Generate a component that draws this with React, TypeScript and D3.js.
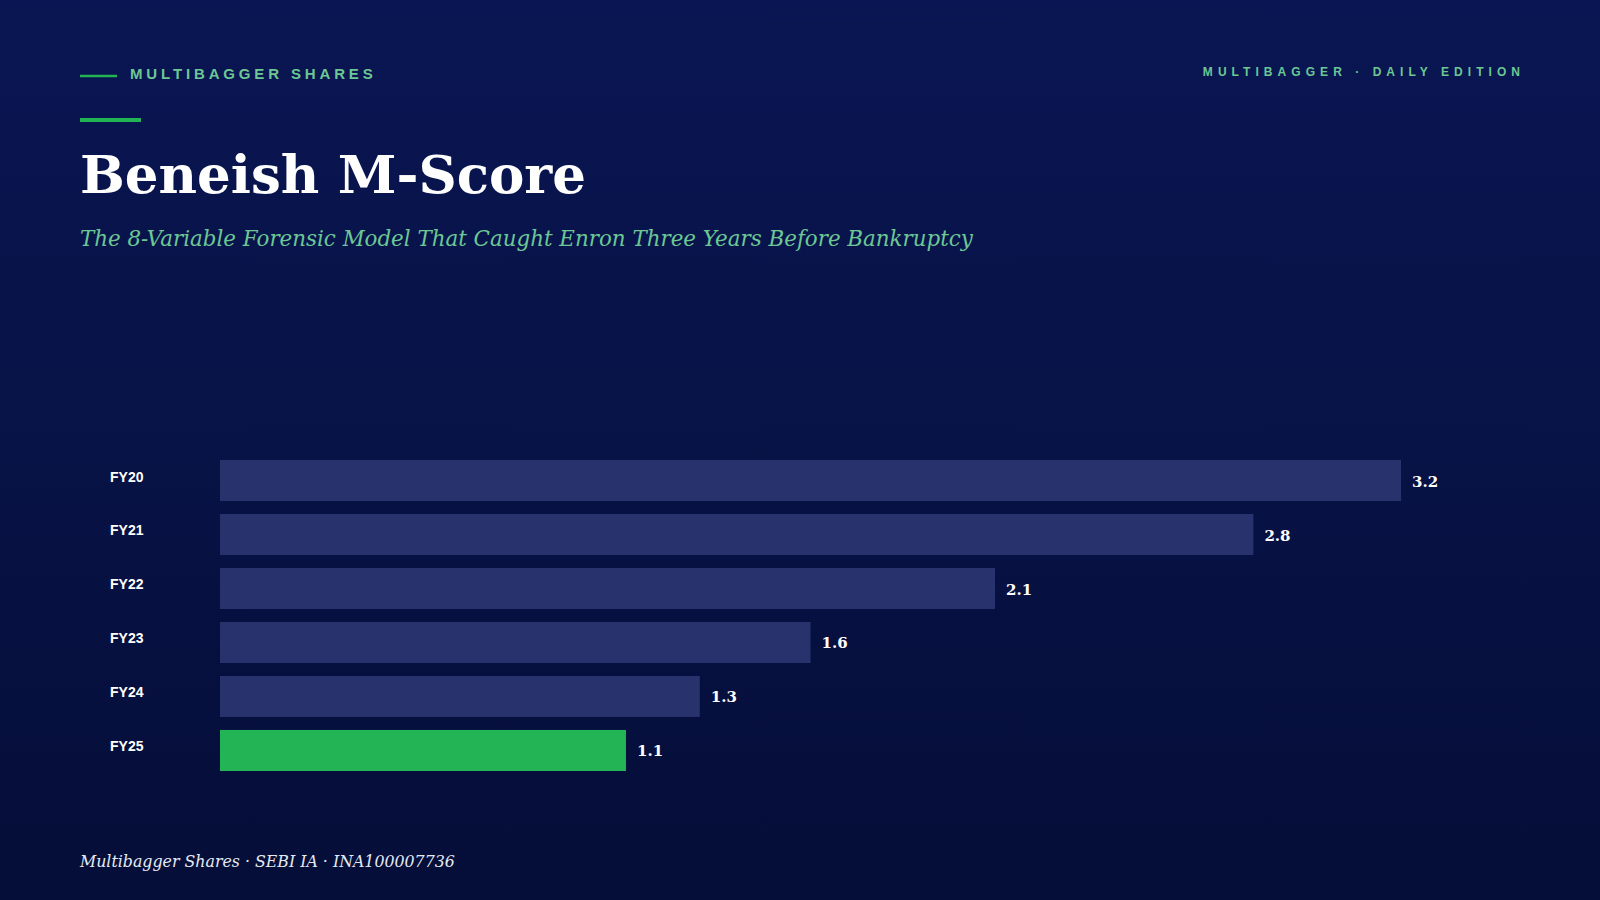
import React, { useEffect, useRef } from 'react';
import * as d3 from 'd3';

const categories = ['FY20', 'FY21', 'FY22', 'FY23', 'FY24', 'FY25'];
const mScores = [3.2, 2.8, 2.1, 1.6, 1.3, 1.1];
const valueLabels = ['3.2', '2.8', '2.1', '1.6', '1.3', '1.1'];
const highlight = 'FY25';

const W = 1600;
const H = 900;
const SERIF = '"DejaVu Serif", Georgia, serif';
const SANS = '"Liberation Sans", Arial, sans-serif';

const App: React.FC = () => {
  const svgRef = useRef<SVGSVGElement>(null);

  useEffect(() => {
    document.body.style.margin = '0';
    if (!svgRef.current) return;

    const svg = d3.select(svgRef.current);
    svg.selectAll('*').remove();

    // Background gradient
    const defs = svg.append('defs');
    const grad = defs.append('linearGradient')
      .attr('id', 'bg')
      .attr('x1', 0).attr('y1', 0).attr('x2', 0).attr('y2', 1);
    grad.append('stop').attr('offset', '0%').attr('stop-color', '#0a1653');
    grad.append('stop').attr('offset', '100%').attr('stop-color', '#050e38');

    svg.append('rect')
      .attr('width', W)
      .attr('height', H)
      .attr('fill', 'url(#bg)');

    // Header
    svg.append('line')
      .attr('x1', 80).attr('x2', 117)
      .attr('y1', 76).attr('y2', 76)
      .attr('stroke', '#22b455')
      .attr('stroke-width', 2.5);

    svg.append('text')
      .attr('x', 130)
      .attr('y', 79)
      .attr('fill', '#6cc794')
      .attr('font-family', SANS)
      .attr('font-weight', 700)
      .attr('font-size', 15)
      .attr('letter-spacing', 3.85)
      .text('MULTIBAGGER SHARES');

    svg.append('text')
      .attr('x', 1525)
      .attr('y', 76)
      .attr('text-anchor', 'end')
      .attr('fill', '#6cc794')
      .attr('font-family', SANS)
      .attr('font-weight', 700)
      .attr('font-size', 12)
      .attr('letter-spacing', 5.05)
      .text('MULTIBAGGER · DAILY EDITION');

    svg.append('rect')
      .attr('x', 80).attr('y', 118)
      .attr('width', 61).attr('height', 4)
      .attr('fill', '#22b455');

    svg.append('text')
      .attr('x', 80)
      .attr('y', 193)
      .attr('fill', '#ffffff')
      .attr('font-family', SERIF)
      .attr('font-weight', 700)
      .attr('font-size', 53)
      .text('Beneish M-Score');

    svg.append('text')
      .attr('x', 80)
      .attr('y', 246)
      .attr('fill', '#6cc794')
      .attr('font-family', SERIF)
      .attr('font-style', 'italic')
      .attr('font-size', 21.4)
      .text('The 8-Variable Forensic Model That Caught Enron Three Years Before Bankruptcy');

    // Scales
    const x = d3.scaleLinear()
      .domain([0, d3.max(mScores) || 0])
      .range([220, 1401]);

    const y = d3.scaleBand()
      .domain(categories)
      .range([460, 771])
      .paddingInner(0.24)
      .paddingOuter(0);

    const rows = categories.map((c, i) => ({ cat: c, v: mScores[i], label: valueLabels[i] }));

    const g = svg.append('g');

    g.selectAll('rect.bar')
      .data(rows)
      .enter()
      .append('rect')
      .attr('class', 'bar')
      .attr('x', x(0))
      .attr('y', d => y(d.cat) || 0)
      .attr('width', d => x(d.v) - x(0))
      .attr('height', y.bandwidth())
      .attr('fill', d => d.cat === highlight ? '#22b455' : '#28336e');

    g.selectAll('text.cat')
      .data(rows)
      .enter()
      .append('text')
      .attr('class', 'cat')
      .attr('x', 110)
      .attr('y', d => (y(d.cat) || 0) + 21.5)
      .attr('fill', '#ffffff')
      .attr('font-family', SANS)
      .attr('font-weight', 700)
      .attr('font-size', 14)
      .text(d => d.cat);

    g.selectAll('text.val')
      .data(rows)
      .enter()
      .append('text')
      .attr('class', 'val')
      .attr('x', d => x(d.v) + 11)
      .attr('y', d => (y(d.cat) || 0) + y.bandwidth() / 2 + 6)
      .attr('fill', '#ffffff')
      .attr('font-family', SERIF)
      .attr('font-weight', 700)
      .attr('font-size', 15)
      .text(d => d.label);

    // Footer
    svg.append('text')
      .attr('x', 80)
      .attr('y', 867)
      .attr('fill', '#e6eaf2')
      .attr('font-family', SERIF)
      .attr('font-style', 'italic')
      .attr('font-size', 15.8)
      .text('Multibagger Shares · SEBI IA · INA100007736');
  }, []);

  return <svg ref={svgRef} width={W} height={H} style={{ display: 'block' }} />;
};

export default App;
